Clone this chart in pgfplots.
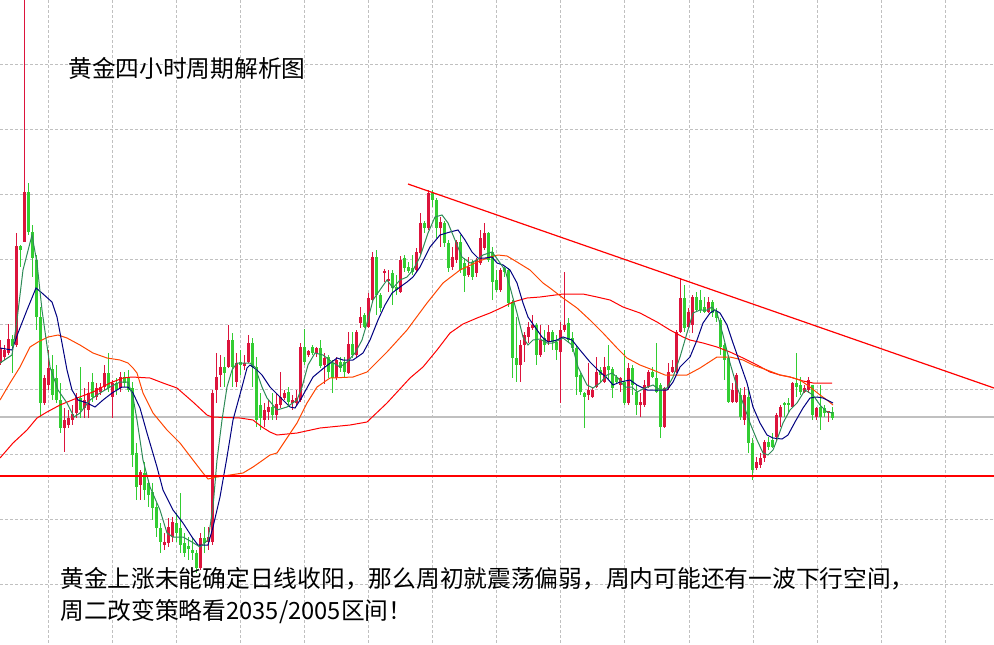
\documentclass[border=0pt]{standalone}
\usepackage{pgfplots}
\usepackage{pgfplotstable}
\pgfplotsset{compat=1.18}
\usepackage{fontspec}
\newfontfamily\cjk{Noto Sans CJK SC}

\definecolor{upc}{HTML}{DC143C}
\definecolor{dnc}{HTML}{32CD32}
\definecolor{mafast}{HTML}{2E8B57}
\definecolor{mamid}{HTML}{000080}
\definecolor{maslow}{HTML}{FF4500}
\definecolor{malong}{HTML}{FF0000}
\definecolor{gridc}{HTML}{C0C0C0}

% candles in screen units (y grows downward): x open close high low
\pgfplotstableread{
x o c h l
0.7 363 348 340 365
4.7 357 350 345 360
8.7 353 339 324 355
16.7 345 246 233 347
24.7 242 192 0 242
44.7 403 378 375 405
48.7 385 368 350 390
64.7 428 420 408 452
68.7 425 418 410 428
72.7 420 414 405 425
76.7 413 397 393 418
84.7 408 400 388 418
88.7 410 393 382 418
96.7 397 388 383 400
100.7 392 387 383 395
104.7 387 373 365 390
112.7 397 383 380 418
120.7 388 377 372 392
140.7 485 472 470 500
164.7 545 542 533 550
168.7 543 527 518 547
172.7 537 522 517 542
200.7 568 538 533 570
208.7 542 537 527 550
212.7 542 393 390 545
216.7 390 377 353 403
220.7 375 367 355 387
228.7 367 340 325 368
236.7 382 363 353 387
244.7 366 363 355 370
248.7 362 343 335 363
264.7 420 410 403 427
268.7 412 407 400 420
276.7 415 404 393 420
280.7 405 397 372 408
284.7 398 393 390 400
292.7 403 400 395 410
296.7 403 398 390 405
300.7 400 347 343 402
308.7 355 351 350 357
316.7 353 348 347 357
324.7 365 358 353 384
336.7 378 360 357 380
348.7 373 344 332 374
356.7 355 332 330 357
360.7 323 317 307 328
368.7 327 298 293 328
372.7 300 257 252 302
384.7 273 271 269 282
388.7 281 279 270 292
400.7 292 260 256 293
416.7 270 252 248 272
420.7 253 223 213 255
428.7 228 193 190 230
440.7 228 222 217 247
452.7 267 257 247 270
456.7 260 242 240 263
468.7 275 267 257 277
476.7 273 260 258 277
480.7 263 238 230 265
484.7 248 233 223 250
500.7 290 270 268 292
520.7 365 345 340 382
524.7 345 335 332 362
528.7 337 327 322 343
532.7 328 325 315 330
540.7 355 340 325 357
548.7 342 332 325 345
560.7 352 330 322 403
564.7 330 325 272 332
588.7 395 390 363 400
592.7 397 390 388 398
596.7 387 372 357 388
604.7 382 367 357 383
620.7 385 378 377 392
628.7 403 368 363 405
640.7 405 402 393 417
644.7 405 385 380 407
648.7 387 372 370 388
664.7 427 388 387 428
668.7 388 372 363 390
672.7 372 367 360 373
676.7 372 332 330 373
680.7 332 298 278 333
688.7 327 312 308 328
692.7 325 297 295 333
708.7 312 302 297 313
732.7 402 390 383 403
736.7 402 375 373 403
744.7 420 395 387 425
756.7 468 462 457 470
760.7 465 458 453 468
764.7 458 442 440 462
776.7 437 415 413 440
780.7 417 407 405 427
792.7 407 383 382 408
804.7 392 388 385 393
808.7 390 380 377 393
816.7 417 408 407 420
828.7 413 411 411 422
}\up

\pgfplotstableread{
x o c h l
12.7 339 346 335 373
20.7 246 250 245 267
28.7 192 232 183 235
32.7 232 258 225 277
36.7 260 317 255 330
40.7 317 403 307 417
52.7 369 395 355 400
56.7 378 400 365 403
60.7 400 428 383 433
80.7 398 410 367 418
92.7 382 397 373 402
108.7 373 388 353 392
116.7 383 390 378 395
124.7 377 383 372 387
128.7 377 390 370 392
132.7 388 455 382 467
136.7 453 487 443 500
144.7 473 490 462 500
148.7 483 495 480 507
152.7 492 508 483 520
156.7 507 528 503 537
160.7 528 542 523 553
176.7 523 533 513 542
180.7 528 545 493 553
184.7 543 553 533 557
188.7 546 549 537 560
192.7 550 553 538 560
196.7 553 568 550 573
204.7 538 543 527 553
224.7 367 373 357 387
232.7 340 367 333 387
240.7 362 365 350 375
252.7 343 367 338 387
256.7 367 420 357 427
260.7 405 418 393 430
272.7 407 415 393 420
288.7 392 402 387 407
304.7 347 362 329 365
312.7 347 353 345 355
320.7 348 366 340 368
328.7 357 372 355 378
332.7 363 378 360 393
340.7 362 368 357 372
344.7 362 372 357 377
352.7 344 355 332 358
364.7 315 327 313 328
376.7 257 295 250 315
380.7 295 308 293 312
392.7 273 288 270 305
396.7 287 290 275 295
404.7 258 268 255 272
408.7 267 271 262 273
412.7 268 272 255 275
424.7 223 228 221 233
432.7 193 200 190 207
436.7 200 228 198 238
444.7 223 243 221 247
448.7 243 268 240 272
460.7 242 270 235 273
464.7 263 276 258 292
472.7 262 277 260 280
488.7 233 260 232 262
492.7 252 282 247 300
496.7 280 290 270 292
504.7 268 272 267 277
508.7 270 303 268 307
512.7 302 358 300 378
516.7 358 365 317 382
536.7 325 355 323 365
544.7 338 345 330 352
552.7 332 342 330 350
556.7 342 350 335 360
568.7 323 340 318 343
572.7 338 348 332 352
576.7 348 377 345 395
580.7 375 392 373 395
584.7 393 397 392 428
600.7 370 375 367 383
608.7 366 370 345 380
612.7 369 388 367 398
616.7 377 382 375 383
624.7 382 403 350 405
632.7 368 385 365 395
636.7 392 405 385 415
652.7 372 377 367 378
656.7 378 392 343 393
660.7 385 427 383 438
684.7 298 328 285 332
696.7 297 310 292 312
700.7 300 310 290 313
704.7 307 312 297 313
712.7 302 313 300 317
716.7 312 318 308 322
720.7 320 347 318 355
724.7 345 360 343 380
728.7 358 402 355 403
740.7 395 417 388 420
748.7 397 443 387 453
752.7 443 470 438 480
768.7 442 447 437 450
772.7 440 447 433 448
784.7 403 405 402 417
788.7 403 405 398 413
796.7 383 387 353 397
800.7 385 392 377 395
812.7 385 415 385 420
820.7 407 417 385 430
824.7 408 413 405 417
832.7 412 418 407 420
}\dn

\pgfplotsset{
  wick/.style={draw=none, mark=none, forget plot,
    error bars/.cd, y dir=plus, y explicit, error mark=none,
    error bar style={draw=#1, line width=0.75pt, solid}},
  body/.style={draw=none, mark=none, forget plot,
    error bars/.cd, y dir=plus, y explicit, error mark=none,
    error bar style={draw=#1, line width=2.4pt, solid}},
}

\begin{document}
\begin{tikzpicture}
\begin{axis}[
  scale only axis,
  width=745.5pt, height=483pt,
  xmin=0, xmax=994, ymin=0, ymax=644,
  y dir=reverse,
  axis line style={draw=none},
  major tick length=0pt,
  xtick={48,112.1,176.2,240.3,304.4,368.5,432.6,496.7,560.8,624.9,689,753.1,817.2,881.3,945.4},
  ytick={64,129,194,259,324,389,454,519,584},
  xticklabels={}, yticklabels={},
  grid=major,
  major grid style={gridc, line width=0.75pt, dash pattern=on 2.25pt off 1.5pt},
]
\coordinate (SW) at (rel axis cs:0,0);
\coordinate (NE) at (rel axis cs:1,1);

% reference level
\addplot[gridc, line width=0.9pt, forget plot] coordinates {(0,417) (994,417)};

% wicks
\addplot[wick=upc] table[x=x, y=h, y error plus expr=\thisrow{l}-\thisrow{h}] {\up};
\addplot[wick=dnc] table[x=x, y=h, y error plus expr=\thisrow{l}-\thisrow{h}] {\dn};
% bodies
\addplot[body=upc] table[x=x, y=c, y error plus expr=\thisrow{o}-\thisrow{c}] {\up};
\addplot[body=dnc] table[x=x, y=o, y error plus expr=\thisrow{c}-\thisrow{o}] {\dn};

% moving averages
\addplot[malong, line width=0.75pt, mark=none] coordinates {
(0,458)(13,443)(27,430)(37,418)(47,412)(60,405)(77,398)(93,392)(110,383)(123,378)(132,377)(150,378)(163,383)(177,388)(193,402)(207,415)(212,417)(240,418)(253,420)(262,427)(270,432)(277,435)(297,433)(320,428)(350,425)(367,422)(387,403)(410,378)(423,367)(437,350)(450,333)(463,324)(477,318)(490,313)(503,307)(513,302)(527,298)(540,297)(563,294)(583,294)(597,297)(610,300)(623,307)(640,313)(657,322)(670,330)(683,337)(690,340)(703,343)(717,347)(730,352)(743,358)(757,365)(770,372)(780,375)(790,377)(803,381)(813,383)(832,383)};
\addplot[maslow, line width=0.75pt, mark=none] coordinates {
(0,400)(10,383)(20,367)(30,347)(38,342)(48,337)(58,335)(67,338)(80,345)(93,353)(107,358)(120,360)(128,363)(133,368)(137,373)(143,393)(153,413)(167,430)(180,443)(193,460)(203,473)(208,479)(217,477)(230,475)(243,473)(253,467)(263,460)(270,455)(277,453)(297,423)(307,403)(317,387)(330,378)(353,377)(367,372)(387,352)(407,330)(427,303)(443,283)(460,270)(477,262)(490,257)(498,255)(507,256)(517,262)(530,270)(543,283)(550,288)(563,298)(577,308)(590,320)(603,333)(617,348)(627,358)(640,365)(653,370)(665,375)(687,375)(700,368)(717,357)(730,357)(743,360)(753,365)(767,370)(780,375)(790,377)(800,380)(810,387)(820,395)(827,400)(833,405)};
\addplot[mamid, line width=0.75pt, mark=none] coordinates {
(0,348)(12,350)(18,333)(27,310)(36,288)(42,293)(52,302)(57,317)(62,343)(67,370)(72,390)(78,400)(87,403)(95,407)(103,400)(112,393)(122,387)(128,387)(133,393)(140,408)(147,433)(157,467)(163,490)(173,510)(183,523)(192,537)(198,545)(208,545)(213,527)(220,497)(227,457)(233,420)(242,387)(247,368)(250,365)(257,370)(262,375)(270,387)(280,397)(290,407)(295,408)(302,397)(313,377)(325,367)(337,358)(343,360)(353,360)(363,353)(370,340)(378,320)(385,305)(392,293)(400,287)(407,282)(413,277)(420,267)(430,247)(440,235)(450,232)(458,230)(465,240)(472,252)(478,258)(485,258)(492,257)(497,263)(503,265)(510,270)(517,283)(523,303)(528,317)(535,327)(542,337)(548,342)(557,340)(563,337)(572,340)(580,350)(590,362)(600,372)(607,378)(613,385)(620,382)(630,380)(637,385)(647,390)(667,390)(673,382)(680,367)(690,357)(697,340)(703,323)(710,313)(715,310)(720,313)(727,325)(733,343)(740,363)(747,383)(753,407)(760,423)(767,435)(773,438)(782,439)(788,435)(795,422)(803,408)(810,398)(817,397)(823,398)(833,403)};
\addplot[mafast, line width=0.75pt, mark=none] coordinates {
(0,363)(12,355)(17,320)(23,270)(32,235)(37,263)(42,310)(50,367)(58,390)(67,403)(74,417)(80,413)(90,400)(100,393)(110,387)(120,382)(128,382)(133,397)(137,420)(143,460)(150,487)(160,510)(167,533)(173,537)(183,537)(192,542)(200,547)(208,540)(213,507)(217,460)(222,420)(227,387)(232,370)(237,363)(250,363)(255,367)(262,387)(267,398)(277,410)(287,407)(297,400)(302,387)(308,365)(315,353)(323,355)(332,362)(340,367)(347,362)(355,353)(362,340)(367,323)(373,300)(382,287)(387,280)(393,288)(400,280)(407,277)(413,270)(420,257)(428,233)(435,217)(442,215)(448,223)(455,240)(462,257)(470,263)(477,260)(483,255)(492,252)(498,260)(505,270)(510,287)(517,313)(523,337)(528,345)(533,340)(540,339)(547,343)(553,343)(563,338)(572,345)(578,367)(587,385)(593,388)(600,383)(607,375)(612,373)(618,378)(625,387)(632,387)(637,392)(645,388)(653,385)(660,390)(667,388)(673,377)(680,357)(687,333)(693,313)(700,310)(707,310)(712,307)(717,313)(723,335)(730,363)(737,387)(743,403)(750,423)(757,440)(763,453)(768,455)(773,450)(778,437)(783,423)(790,410)(797,403)(805,390)(813,395)(820,405)(827,412)(833,413)};

% support and falling trendline
\addplot[malong, line width=1pt, mark=none] coordinates {(0,476) (994,476)};
\addplot[malong, line width=0.9pt, mark=none] coordinates {(408,184) (994,388)};

\node[anchor=base west, inner sep=0pt, font={\fontsize{17.8pt}{21pt}\cjk}]
  at (axis cs:68,77) {黄金四小时周期解析图};
\node[anchor=base west, inner sep=0pt, font={\fontsize{17.8pt}{21pt}\cjk}]
  at (axis cs:60,587) {黄金上涨未能确定日线收阳，那么周初就震荡偏弱，周内可能还有一波下行空间，};
\node[anchor=base west, inner sep=0pt, font={\fontsize{17.8pt}{21pt}\cjk}]
  at (axis cs:60,619) {周二改变策略看2035/2005区间！};
\end{axis}
\pgfresetboundingbox
\useasboundingbox (SW) rectangle (NE);
\end{tikzpicture}
\end{document}
